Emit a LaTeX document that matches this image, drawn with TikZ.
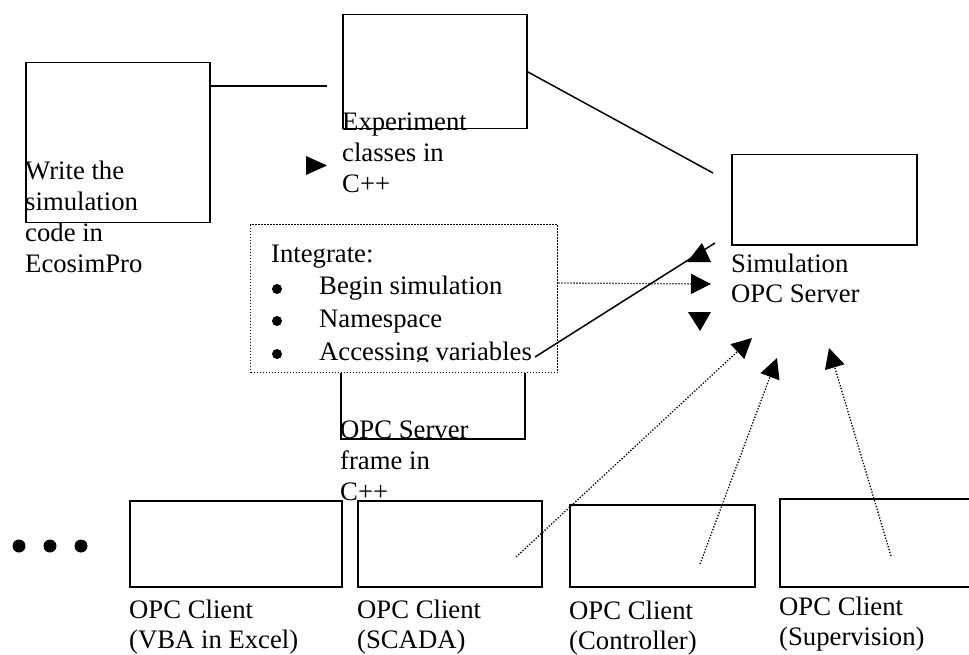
\documentclass[tikz,border=0pt]{standalone}
\usepackage{fontspec}
\setmainfont{Liberation Serif}
\usetikzlibrary{arrows.meta}
\newcommand{\mylines}[1]{\begin{tabular}[t]{@{}l@{}}#1\end{tabular}}
\tikzset{
  boxn/.style={draw, line width=1.5pt, inner sep=0pt, anchor=north west},
  txt/.style={inner sep=0pt, anchor=base west, font=\fontsize{26.7}{31}\selectfont},
  lbl/.style={txt, font=\fontsize{26.7}{30}\selectfont},
  dotln/.style={line width=1.3pt, dash pattern=on 1.3pt off 1.7pt},
  solidln/.style={line width=1.5pt},
  tipa/.style={-{Triangle[length=20pt,width=20pt]}},
  dotc/.style={circle, fill, inner sep=0pt, minimum size=13pt},
  bulc/.style={circle, fill, inner sep=0pt, minimum size=10pt}
}
\begin{document}
\begin{tikzpicture}[x=1pt,y=-1pt]
\clip (0,0) rectangle (969,655);
\fill[white] (0,0) rectangle (969,655);

% boxes
\node[boxn, minimum width=184pt, minimum height=160pt] (A) at (25,62) {};
\node[boxn, minimum width=184pt, minimum height=114pt] (B) at (342,14) {};
\node[boxn, minimum width=185pt, minimum height=90pt] (C) at (731,154) {};
\node[boxn, minimum width=184pt, minimum height=80pt] (E) at (340,358) {};
\node[boxn, dotln, fill=white, minimum width=307pt, minimum height=148pt] (D) at (250,224) {};
\node[boxn, minimum width=212pt, minimum height=86pt] (K1) at (129,500) {};
\node[boxn, minimum width=184pt, minimum height=86pt] (K2) at (357,500) {};
\node[boxn, minimum width=185pt, minimum height=82pt] (K3) at (569,504) {};
\node[boxn, minimum width=215pt, minimum height=88pt] (K4) at (779,498) {};

% texts
\node[txt] (tA) at (25,180) {\mylines{Write the\\simulation\\code in\\EcosimPro}};
\node[txt] (tB) at (342,131) {\mylines{Experiment\\classes in\\C++}};
\node[txt] (tC) at (731,272) {\mylines{Simulation\\OPC Server}};
\node[txt] (tE) at (340,438) {\mylines{OPC Server\\frame in\\C++}};
\node[lbl] (tK1) at (129,618) {\mylines{OPC Client\\(VBA in Excel)}};
\node[lbl] (tK2) at (357,618) {\mylines{OPC Client\\(SCADA)}};
\node[lbl] (tK3) at (569,619) {\mylines{OPC Client\\(Controller)}};
\node[lbl] (tK4) at (779,615) {\mylines{OPC Client\\(Supervision)}};

\begin{scope}
\clip (250,224) rectangle (557,361);
\node[txt, font=\fontsize{26.7}{32.7}\selectfont] (tD) at (271,262)
  {\begin{tabular}[t]{@{}p{48pt}@{}l@{}}\multicolumn{2}{@{}l@{}}{Integrate:}\\
   & Begin simulation\\
   & Namespace\\
   & Accessing variables\end{tabular}};
\end{scope}
\node[bulc] (b1) at (277,289) {};
\node[bulc] (b2) at (277,321) {};
\node[bulc] (b3) at (277,354) {};

% dots
\node[dotc] (d1) at (19,546) {};
\node[dotc] (d2) at (50,546) {};
\node[dotc] (d3) at (81,546) {};

% connectors
\coordinate (ab) at (327,86);
\draw[solidln] ([yshift=-24pt]A.north east) -- (ab);
\fill (306,156) -- (327,165.5) -- (306,175) -- cycle;

\coordinate (bc) at (713,173);
\draw[solidln] (B.east) -- (bc);

\coordinate (acc) at (535,357);
\coordinate (acc2) at (715,243);
\draw[solidln] (acc) -- (acc2);
\fill (702,243) -- (711,262) -- (687,262) -- cycle;

\coordinate (dtip) at (711,284);
\draw[dotln, tipa] (D.east |- 0,283) -- (dtip);
\fill (688,312) -- (711,312) -- (700,331) -- cycle;

\coordinate (s1) at (516,557);
\coordinate (e1) at (752,338);
\coordinate (s2) at (700,564);
\coordinate (e2) at (777,358);
\coordinate (s3) at (891,556);
\coordinate (e3) at (829,348);
\draw[dotln, tipa] (s1) -- (e1);
\draw[dotln, tipa] (s2) -- (e2);
\draw[dotln, tipa] (s3) -- (e3);
\end{tikzpicture}
\end{document}
